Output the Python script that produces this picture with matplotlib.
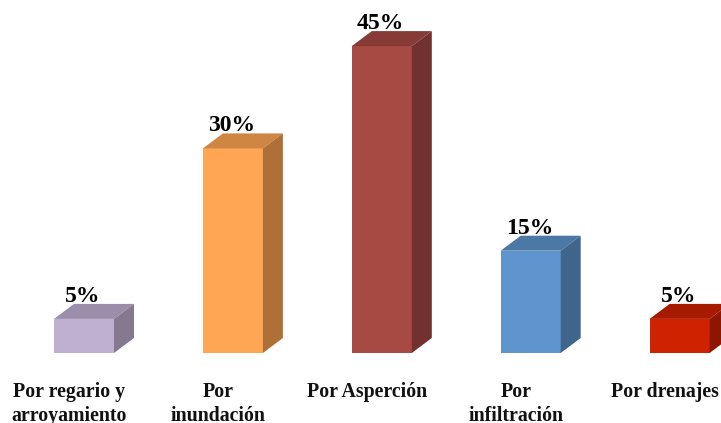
import matplotlib
matplotlib.use("Agg")
import matplotlib.pyplot as plt
from matplotlib.patches import Polygon

categories = ["Por regario y\narroyamiento", "Por\ninundación", "Por Asperción", "Por\ninfiltración", "Por drenajes"]
values = [5, 30, 45, 15, 5]
value_labels = ["5%", "30%", "45%", "15%", "5%"]
front_colors = ["#BFB0D2", "#FFA655", "#A64A43", "#5F95CE", "#CE2200"]
top_colors = ["#9A8EAA", "#CE8642", "#863B36", "#4C78A6", "#A61B00"]
side_colors = ["#84798F", "#AE7037", "#72312E", "#40658D", "#8C1600"]

W, H = 721, 423
dpi = 100
fig = plt.figure(figsize=(W / dpi, H / dpi), dpi=dpi, facecolor="white")
base_px, step_px, x0_px, px_per_pct = 353, 148.9, 84, 6.82
ax = fig.add_axes([0, (H - base_px) / H, 1, base_px / H])
ax.set_xlim(-x0_px / step_px, (W - x0_px) / step_px)
ax.set_ylim(0, base_px / px_per_pct)
ax.axis("off")

bar_w = 60 / step_px
dx = 20 / step_px
dy = 15 / px_per_pct
font = "Liberation Serif"

for i, (v, fc, tc, sc) in enumerate(zip(values, front_colors, top_colors, side_colors)):
    ax.bar(i, v, width=bar_w, color=fc, linewidth=0, zorder=2)
    l, r = i - bar_w / 2, i + bar_w / 2
    ax.add_patch(Polygon([(l, v), (r, v), (r + dx, v + dy), (l + dx, v + dy)],
                         closed=True, fc=tc, ec="none", zorder=2, clip_on=False))
    ax.add_patch(Polygon([(r, 0), (r + dx, dy), (r + dx, v + dy), (r, v)],
                         closed=True, fc=sc, ec="none", zorder=2, clip_on=False))

px = 72 / dpi
for i, (v, lab, cat) in enumerate(zip(values, value_labels, categories)):
    ax.annotate(lab, (i, v), xytext=(-1 * px, 17 * px), textcoords="offset points",
                ha="center", va="baseline", family=font, fontweight="bold",
                fontsize=17, color="black", annotation_clip=False)
    for k, line in enumerate(cat.split("\n")):
        ax.annotate(line, (i, 0), xytext=(-15 * px, (-44 - 24 * k) * px), textcoords="offset points",
                    ha="center", va="baseline", family=font, fontweight="bold",
                    fontsize=14.3, color="#111111", annotation_clip=False)

fig.savefig("out.png", dpi=dpi, facecolor="white")
